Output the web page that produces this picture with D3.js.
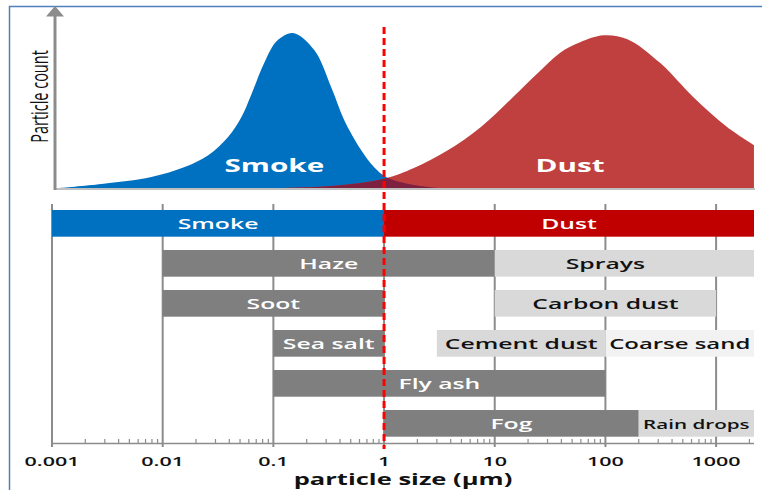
<!DOCTYPE html>
<html>
<head>
<meta charset="utf-8">
<script src="https://cdn.jsdelivr.net/npm/d3@7"></script>
<style>
  html, body { margin: 0; padding: 0; background: #fff; }
  svg { display: block; }
  text { font-family: "Open Sans", "Noto Sans", sans-serif; }
</style>
</head>
<body>
<svg id="chart" width="762" height="490"></svg>
<script>
// ---------- DATA ----------
// Top distribution curves (particle size in µm, relative particle count)
const smokeSize  = [0.00116, 0.0028, 0.0079, 0.0158, 0.026, 0.039, 0.0515, 0.063, 0.083, 0.108, 0.151, 0.234, 0.333, 0.436, 0.62, 0.81, 1.04, 1.7, 3.2];
const smokeCount = [0, 2.6, 7.1, 13.5, 21.3, 32.9, 45.8, 60, 81, 95, 100, 89, 65, 43.9, 24.5, 13.5, 7.1, 2.5, 0];
const dustSize   = [0.111, 0.333, 1.0, 1.86, 3.7, 7.5, 14.8, 24.4, 38.5, 59, 96, 158, 313, 621, 1256, 2198];
const dustCount  = [0, 1.3, 6, 12.9, 24, 39.4, 59, 74, 87, 94, 98.5, 96, 80.6, 58.7, 39.4, 27.7];
const curveLabels  = ["Smoke", "Dust"];
const curveLabelAt = [0.102, 48];

// Range bars
const barLabels  = ["Smoke", "Dust", "Haze", "Sprays", "Soot", "Carbon dust", "Sea salt", "Cement dust", "Coarse sand", "Fly ash", "Fog", "Rain drops"];
const barStart   = [0.001, 1, 0.01, 10, 0.01, 10, 0.1, 3, 100, 0.1, 1, 200];
const barEnd     = [1, 2200, 10, 2200, 1, 1000, 1, 100, 2200, 100, 200, 2200];
const barRow     = [0, 0, 1, 1, 2, 2, 3, 3, 3, 4, 5, 5];
const barKind    = ["smoke", "dust", "dark", "light", "dark", "light", "dark", "light", "lighter", "dark", "dark", "light"];
const barLabelAt = [null, null, null, 100, null, null, null, null, null, null, null, null];

// Axis
const xDomain    = [0.001, 2200];
const tickValues = [0.001, 0.01, 0.1, 1, 10, 100, 1000];
const tickLabels = ["0.001", "0.01", "0.1", "1", "10", "100", "1000"];
const dividerAt  = 1;
const axisTitle  = "particle size (µm)";
const yTitle     = "Particle count";

// ---------- STYLE ----------
const SX = 1.65; // horizontal text stretch seen in the reference
const fills = { smoke: "#0070C0", dust: "#C00000", dark: "#7F7F7F", light: "#D9D9D9", lighter: "#F2F2F2" };
const textFills = { smoke: "#fff", dust: "#fff", dark: "#fff", light: "#111", lighter: "#111" };
const gridColor = "#8C8C8C";

const svg = d3.select("#chart");

// frame
svg.append("path")
  .attr("d", "M9.5,495 L9.5,6.5 L770,6.5")
  .attr("fill", "none").attr("stroke", "#4F81BD").attr("stroke-width", 1.5);

const x = d3.scaleLog().domain(xDomain).range([52, 754]);
const yTop = d3.scaleLinear().domain([0, 100]).range([188, 33]);
const rows = d3.scaleBand().domain(d3.range(6)).range([210, 436.7]).paddingInner(0.333).paddingOuter(0);

function sText(sel, tx, ty, sx) {
  return sel.attr("transform", `translate(${tx},${ty}) scale(${sx},1)`).attr("x", 0).attr("y", 0);
}

// ---------- TOP DISTRIBUTIONS ----------
const smokePts = smokeSize.map((s, i) => [s, smokeCount[i]]);
const dustPts  = dustSize.map((s, i) => [s, dustCount[i]]);
const area = d3.area().x(d => x(d[0])).y0(yTop(0)).y1(d => yTop(d[1])).curve(d3.curveCatmullRom.alpha(0.5));

const defs = svg.append("defs");
defs.append("clipPath").attr("id", "aboveBase").append("rect")
  .attr("x", 0).attr("y", 0).attr("width", 762).attr("height", yTop(0));
defs.append("clipPath").attr("id", "smokeClip").append("path").attr("d", area(smokePts));

// baseline
svg.append("line").attr("x1", 55).attr("x2", 755).attr("y1", 189).attr("y2", 189)
  .attr("stroke", "#BFBFBF").attr("stroke-width", 2);

const gTop = svg.append("g").attr("clip-path", "url(#aboveBase)");
gTop.append("path").attr("d", area(smokePts)).attr("fill", "#0070C0");
gTop.append("path").attr("d", area(dustPts)).attr("fill", "#C04040");
gTop.append("path").attr("d", area(dustPts)).attr("fill", "#7E2040").attr("clip-path", "url(#smokeClip)");

// y arrow
svg.append("line").attr("x1", 55).attr("x2", 55).attr("y1", 190).attr("y2", 14)
  .attr("stroke", "#8C8C8C").attr("stroke-width", 3);
svg.append("path").attr("d", "M55,6 L46,16.5 L64,16.5 Z").attr("fill", "#8C8C8C");

svg.append("text").text(yTitle)
  .attr("transform", `translate(48,96.5) scale(${SX},1) rotate(-90)`)
  .attr("text-anchor", "middle").attr("font-size", 14.5).attr("fill", "#111");

curveLabels.forEach((t, i) => {
  sText(svg.append("text").text(t), x(curveLabelAt[i]), 171.5, SX)
    .attr("text-anchor", "middle").attr("font-size", 18).attr("font-weight", 700).attr("fill", "#fff");
});

// ---------- GRID + AXIS ----------
const gAxis = svg.append("g");
gAxis.selectAll("line.grid").data(tickValues).join("line")
  .attr("x1", d => x(d)).attr("x2", d => x(d)).attr("y1", 204).attr("y2", 447)
  .attr("stroke", gridColor).attr("stroke-width", 2);

gAxis.append("line").attr("x1", x(xDomain[0])).attr("x2", x(xDomain[1])).attr("y1", 443.5).attr("y2", 443.5)
  .attr("stroke", gridColor).attr("stroke-width", 1.5);

const minor = [];
for (let e = -3; e <= 3; e++) for (let m = 2; m <= 9; m++) {
  const v = m * Math.pow(10, e);
  if (v < xDomain[1]) minor.push(v);
}
gAxis.selectAll("line.minor").data(minor).join("line")
  .attr("x1", d => x(d)).attr("x2", d => x(d)).attr("y1", 443).attr("y2", 439)
  .attr("stroke", gridColor).attr("stroke-width", 1.2);

tickValues.forEach((v, i) => {
  sText(gAxis.append("text").text(tickLabels[i]), x(v), 466, SX)
    .attr("text-anchor", "middle").attr("font-size", 13).attr("font-weight", 600).attr("fill", "#111");
});
sText(svg.append("text").text(axisTitle), (x(xDomain[0]) + x(xDomain[1])) / 2, 485, SX)
  .attr("text-anchor", "middle").attr("font-size", 15.5).attr("font-weight", 700).attr("fill", "#111");

// ---------- BARS ----------
const gBars = svg.append("g");
barLabels.forEach((lab, i) => {
  const x0 = x(barStart[i]), x1 = x(barEnd[i]);
  const y0 = rows(barRow[i]), h = rows.bandwidth();
  gBars.append("rect").attr("x", x0).attr("y", y0).attr("width", x1 - x0).attr("height", h)
    .attr("fill", fills[barKind[i]]);
  const cx = barLabelAt[i] != null ? x(barLabelAt[i]) : (x0 + x1) / 2;
  const t = sText(gBars.append("text").text(lab), cx, y0 + h / 2 + 5.5, SX)
    .attr("text-anchor", "middle").attr("font-size", 15).attr("font-weight", 600)
    .attr("fill", textFills[barKind[i]]);
  let fs = 15;
  while (t.node().getComputedTextLength() * SX > (x1 - x0) - 6 && fs > 8) {
    fs -= 0.5; t.attr("font-size", fs);
  }
});

// ---------- DIVIDER ----------
svg.append("line").attr("x1", x(dividerAt)).attr("x2", x(dividerAt)).attr("y1", 27).attr("y2", 449)
  .attr("stroke", "#FF0000").attr("stroke-width", 3).attr("stroke-dasharray", "7,4");
</script>
</body>
</html>
